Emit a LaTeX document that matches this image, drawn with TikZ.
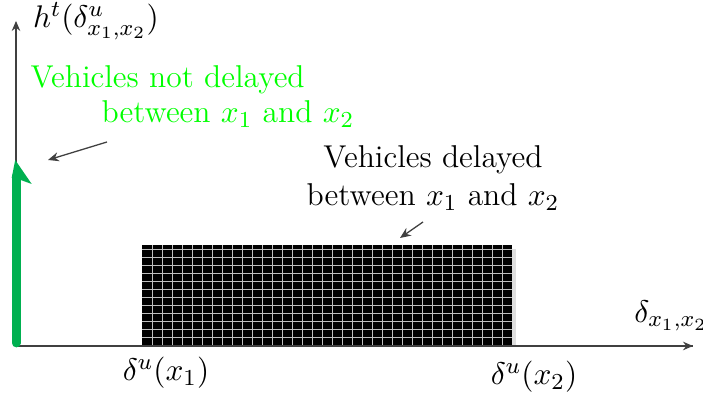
\documentclass[tikz,border=0pt]{standalone}
\usetikzlibrary{arrows.meta}
\definecolor{axisgray}{HTML}{404040}
\definecolor{officegreen}{HTML}{00B050}
\definecolor{brightgreen}{HTML}{00FF00}
\tikzset{
  axisline/.style={draw=axisgray, line width=0.45pt, -{Stealth[length=3.5pt,width=3pt]}},
  pointer/.style={draw=axisgray, line width=0.45pt, -{Stealth[length=3.8pt,width=3.2pt]}},
  lbl/.style={inner sep=0pt, font=\fontsize{11.05}{13.5}\selectfont},
  gridline/.style={draw=gray!50, line width=0.25pt}
}
\begin{document}
\begin{tikzpicture}[x=0.35pt,y=-0.35pt]
\useasboundingbox (0,0) rectangle (703,396);
% axes
\coordinate (O) at (16,346);
\coordinate (ytip) at (16,21);
\coordinate (xtip) at (693,346);
\draw[axisline] (O) -- (ytip);
\draw[axisline] (O) -- (xtip);
% shadow + grid block
\fill[gray!25] (146,249) rectangle (516,345);
\fill[black] (142,245) rectangle (512,345);
\foreach \k in {1,...,36} \draw[gridline] (142+10*\k,245) -- (142+10*\k,345);
\foreach \k in {1,...,12} \draw[gridline] (142,345-8*\k) -- (512,345-8*\k);
\draw[axisline,-] (O) -- (xtip);
% green harpoon
\coordinate (gbot) at (16.2,343);
\coordinate (gtop) at (16.2,176);
\draw[officegreen, line width=3.1pt, line cap=round] (gbot) -- (gtop);
\fill[officegreen] (11.7,178) -- (15.2,160) -- (31.7,184) -- (20.7,180) -- cycle;
% labels
\node[lbl, anchor=center] (ylab) at (96,21) {$h^t(\delta^u_{x_1,x_2})$};
\node[lbl, anchor=center] (xlab) at (671,316) {$\delta_{x_1,x_2}$};
\node[lbl, anchor=center] (d1) at (166,373) {$\delta^u(x_1)$};
\node[lbl, anchor=center] (d2) at (534,377) {$\delta^u(x_2)$};
\node[lbl, text=brightgreen, anchor=base west] (g1) at (30,88) {Vehicles not delayed};
\node[lbl, text=brightgreen, anchor=base west] (g2) at (101,123) {between $x_1$ and $x_2$};
\node[lbl, align=center, anchor=center] (del) at (433,178) {Vehicles delayed\\[0pt]between $x_1$ and $x_2$};
% pointers
\coordinate (p1s) at (107,142);
\coordinate (p1e) at (48,160);
\draw[pointer] (p1s) -- (p1e);
\coordinate (p2s) at (423,222);
\coordinate (p2e) at (400,238);
\draw[pointer] (p2s) -- (p2e);
\end{tikzpicture}
\end{document}
